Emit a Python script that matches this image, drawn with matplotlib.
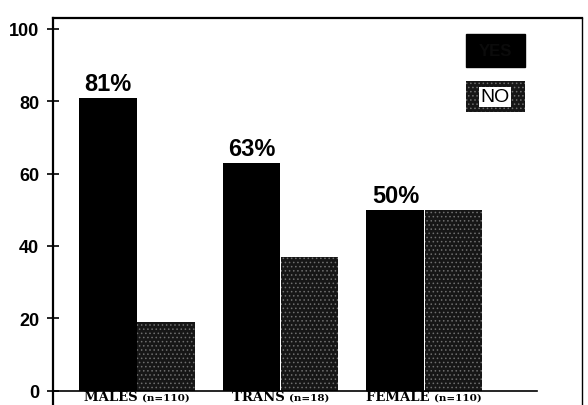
import matplotlib.pyplot as plt
import numpy as np
from matplotlib.patches import Rectangle

# data
groups = ['MALES', 'TRANS', 'FEMALE']
group_n = ['(n=110)', '(n=18)', '(n=110)']
yes_pct = [81, 63, 50]
no_pct = [19, 37, 50]

plt.rcParams['font.family'] = ['Liberation Sans', 'DejaVu Sans']
plt.rcParams['hatch.linewidth'] = 0.6

fig = plt.figure(figsize=(5.88, 4.06), dpi=100)
ax = fig.add_axes([53 / 588, 0, (582 - 53) / 588, 1 - 19 / 406])

x = np.arange(len(groups))
w = 0.40
no_face = '#161616'
no_speck = '#6e6e6e'

ax.bar(x - w / 2 - 0.003, yes_pct, w, color='black', edgecolor='black', linewidth=0)
ax.bar(x + w / 2 + 0.003, no_pct, w, color=no_face, edgecolor=no_speck,
       hatch='....', linewidth=0)

for xi, v in zip(x, yes_pct):
    ax.text(xi - w / 2, v + 0.8, f'{v}%', ha='center', va='bottom',
            fontsize=17, fontweight='bold')

ax.set_xlim(-0.585, 3.10)
ax.set_ylim(-4, 103)

# group labels: big word + small n, centred together under the group
fig.canvas.draw()
renderer = fig.canvas.get_renderer()
inv = ax.transData.inverted()
for xi, g, n in zip(x, groups, group_n):
    t1 = ax.text(0, -2.55, g + ' ', ha='left', va='baseline', fontsize=9.5,
                 fontweight='bold', family='DejaVu Serif')
    t2 = ax.text(0, -2.55, n, ha='left', va='baseline', fontsize=7.5,
                 fontweight='bold', family='DejaVu Serif')
    w1 = t1.get_window_extent(renderer).width
    w2 = t2.get_window_extent(renderer).width
    x0_pix = ax.transData.transform((xi, 0))[0] - (w1 + w2) / 2
    x0 = inv.transform((x0_pix, 0))[0]
    x1 = inv.transform((x0_pix + w1, 0))[0]
    t1.set_x(x0)
    t2.set_x(x1)

# baseline
ax.plot([-0.6, 2.79], [0, 0], color='black', lw=1.2)

# legend boxes with labels inside
ax.add_patch(Rectangle((2.29, 89.4), 0.41, 9.1, facecolor='black', edgecolor='black'))
ax.text(2.495, 94, 'YES', ha='center', va='center', fontsize=12, fontweight='bold',
        color='#0b0b0b')
ax.add_patch(Rectangle((2.29, 77.0), 0.41, 8.5, facecolor=no_face,
                       edgecolor=no_speck, hatch='....', lw=0))
ax.text(2.495, 81.2, 'NO', ha='center', va='center', fontsize=14, color='black',
        bbox=dict(boxstyle='square,pad=0.08', facecolor='white', edgecolor='none'))

ax.set_yticks([0, 20, 40, 60, 80, 100])
ax.set_yticklabels(['0', '20', '40', '60', '80', '100'], fontsize=13, fontweight='bold')
ax.tick_params(axis='y', direction='inout', length=8, width=1.2, pad=6)
ax.set_xticks([])
ax.spines['bottom'].set_visible(False)
ax.spines['left'].set_linewidth(1.6)
ax.spines['top'].set_linewidth(1.6)
ax.spines['right'].set_linewidth(1.0)

fig.savefig('out.png', dpi=100)
